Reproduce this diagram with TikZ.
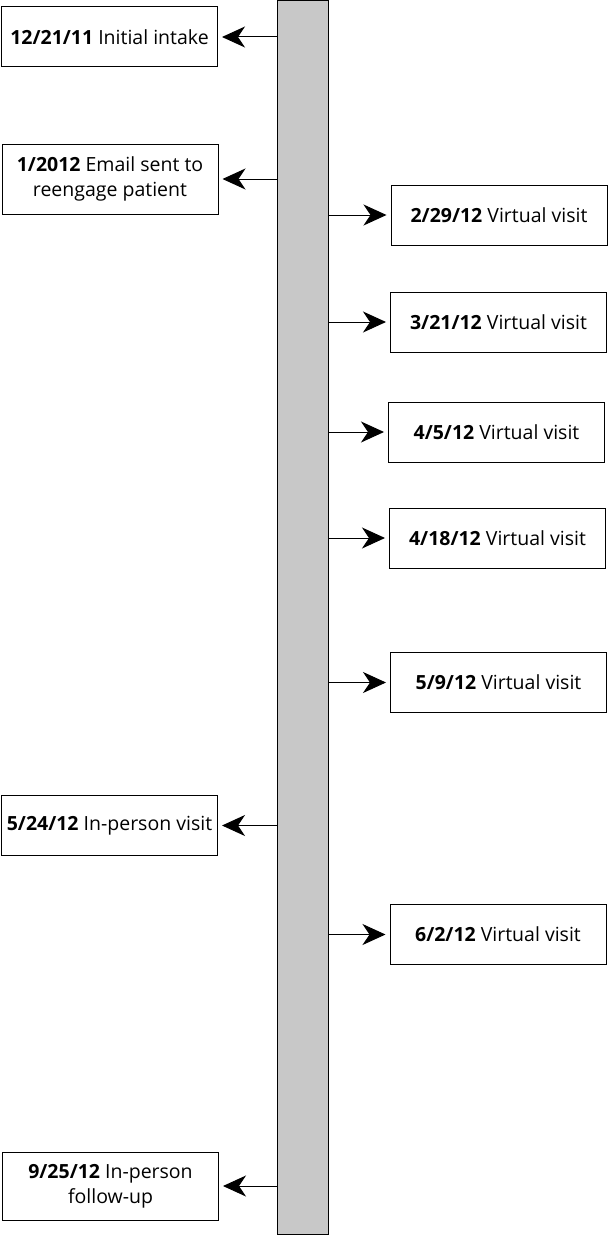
\documentclass[tikz,border=0pt]{standalone}
\usepackage{fontspec}
\setmainfont{Open Sans}
\usepackage{tikz}
\usetikzlibrary{arrows.meta}
\usepackage{xcolor}
\definecolor{bargray}{RGB}{200,200,200}

\tikzset{
  eventbox/.style={draw, line width=1pt, minimum width=216pt, minimum height=60pt, align=center, inner sep=2pt, font=\fontsize{19.5}{25}\selectfont},
  tick/.style={line width=1pt, -{Stealth[length=23pt,width=21pt,inset=7pt]}}
}

\begin{document}
\begin{tikzpicture}[x=1pt,y=-1pt]
  \useasboundingbox (0,0) rectangle (608,1236);
  % Time bar
  \node[draw, line width=1pt, fill=bargray, minimum width=51pt, minimum height=1234pt, inner sep=0pt] (bar) at (302.5,617.5) {};

  % Left events
  \node[eventbox] (intake) at (109.5,37) {\textbf{12/21/11} Initial intake};
  \node[eventbox, minimum height=70pt] (email) at (110,179) {\textbf{1/2012} Email sent to\\reengage patient};
  \node[eventbox] (inperson) at (109.5,825.5) {\textbf{5/24/12} In-person visit};
  \node[eventbox, minimum height=68pt] (followup) at (110.5,1186) {\textbf{9/25/12} In-person\\follow-up};

  % Right events
  \node[eventbox] (v1) at (499,215) {\textbf{2/29/12} Virtual visit};
  \node[eventbox] (v2) at (498.5,322) {\textbf{3/21/12} Virtual visit};
  \node[eventbox] (v3) at (496.5,432) {\textbf{4/5/12} Virtual visit};
  \node[eventbox] (v4) at (497.5,538) {\textbf{4/18/12} Virtual visit};
  \node[eventbox] (v5) at (498.5,682.5) {\textbf{5/9/12} Virtual visit};
  \node[eventbox] (v6) at (498,934.5) {\textbf{6/2/12} Virtual visit};

  % Arrows to the left
  \draw[tick] (bar.west |- intake.east) -- ([xshift=4pt]intake.east);
  \draw[tick] (bar.west |- email.east) -- ([xshift=4pt]email.east);
  \draw[tick] (bar.west |- inperson.east) -- ([xshift=4pt]inperson.east);
  \draw[tick] (bar.west |- followup.east) -- ([xshift=4pt]followup.east);
  % Arrows to the right
  \draw[tick] (bar.east |- v1.west) -- ([xshift=-4pt]v1.west);
  \draw[tick] (bar.east |- v2.west) -- ([xshift=-4pt]v2.west);
  \draw[tick] (bar.east |- v3.west) -- ([xshift=-4pt]v3.west);
  \draw[tick] (bar.east |- v4.west) -- ([xshift=-4pt]v4.west);
  \draw[tick] (bar.east |- v5.west) -- ([xshift=-4pt]v5.west);
  \draw[tick] (bar.east |- v6.west) -- ([xshift=-4pt]v6.west);
\end{tikzpicture}
\end{document}
